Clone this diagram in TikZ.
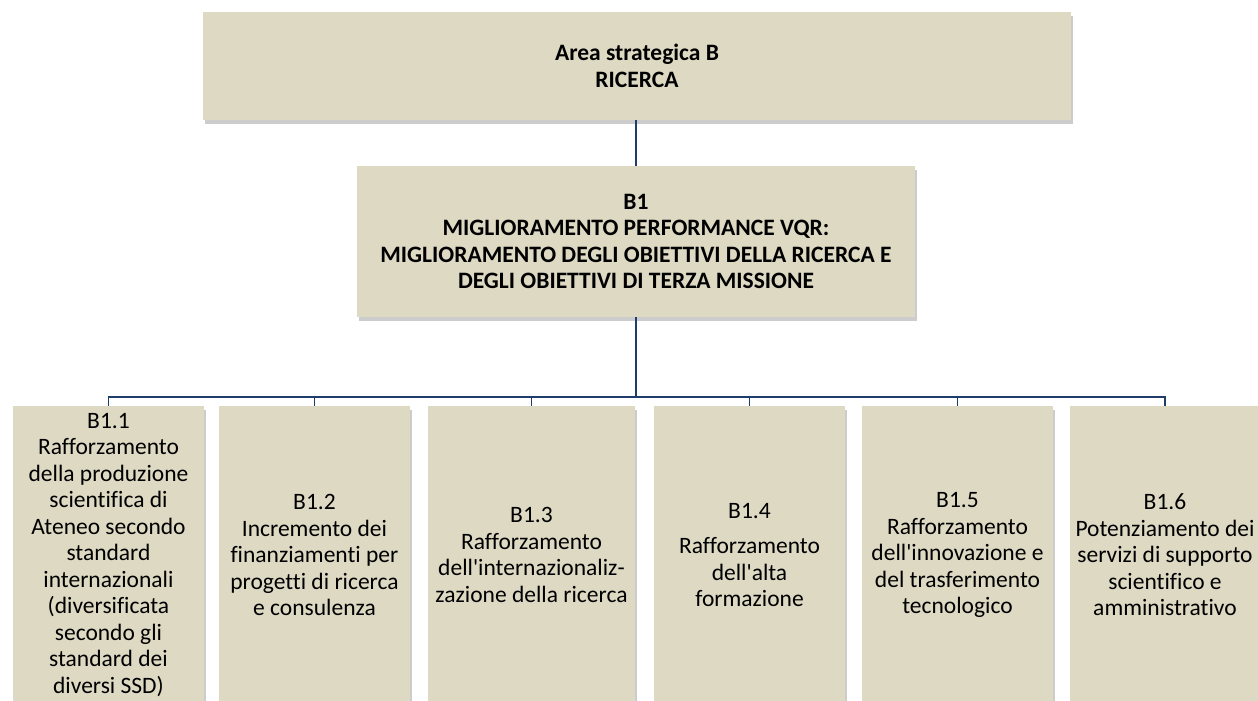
\documentclass[tikz,border=0pt]{standalone}
\usepackage{fontspec}
\setmainfont{Carlito}[Ligatures=NoCommon]
\usetikzlibrary{shadows}
\definecolor{boxfill}{HTML}{DDD9C3}
\definecolor{linecol}{HTML}{1F3D6B}
\newcommand{\apo}{\textquotesingle}
\tikzset{
  boxbase/.style={rectangle, fill=boxfill, inner sep=0pt, align=center,
    drop shadow={shadow xshift=1.5pt, shadow yshift=-4pt, opacity=0.2, fill=black}},
  topbox/.style={boxbase, minimum width=868pt, minimum height=108pt,
    font=\fontsize{23.5}{26.5}\selectfont\bfseries},
  midbox/.style={boxbase, minimum width=558pt, minimum height=151pt,
    font=\fontsize{23.5}{26.5}\selectfont\bfseries},
  childbox/.style={boxbase, minimum width=191pt, minimum height=298pt,
    font=\fontsize{23.5}{26.5}\selectfont},
  conn/.style={draw=linecol, line width=1.5pt}
}
\begin{document}
\begin{tikzpicture}[x=1pt,y=-1pt]
\useasboundingbox (0,0) rectangle (1258,701);
\node[topbox] (top) at (637,66) {Area strategica B\\RICERCA};
\node[midbox] (b1) at (636,241.5) {B1\\MIGLIORAMENTO PERFORMANCE VQR:\\MIGLIORAMENTO DEGLI OBIETTIVI DELLA RICERCA E\\DEGLI OBIETTIVI DI TERZA MISSIONE};
\node[childbox] (c1) at (108.5,555) {B1.1\\Rafforzamento\\della produzione\\scientifica di\\Ateneo secondo\\standard\\internazionali\\(diversificata\\secondo gli\\standard dei\\diversi SSD)};
\node[childbox] (c2) at (314.5,555) {B1.2\\Incremento dei\\finanziamenti per\\progetti di ricerca\\e consulenza};
\node[childbox, minimum width=207pt] (c3) at (531.5,555) {B1.3\\Rafforzamento\\dell\apo internazionaliz-\\zazione della ricerca};
\node[childbox] (c4) at (749.5,555) {B1.4\\[9pt]Rafforzamento\\dell\apo alta\\formazione};
\node[childbox] (c5) at (957.5,555) {B1.5\\Rafforzamento\\dell\apo innovazione e\\del trasferimento\\tecnologico};
\node[childbox] (c6) at (1165,555) {B1.6\\Potenziamento dei\\servizi di supporto\\scientifico e\\amministrativo};
\coordinate (busy) at (0,397);
\draw[conn] (top.south -| b1.north) -- (b1.north);
\foreach \c in {c1,c2,c3,c4,c5,c6}{
  \draw[conn] (b1.south) -- (b1.south |- busy) -| (\c.north);
}
\end{tikzpicture}
\end{document}
